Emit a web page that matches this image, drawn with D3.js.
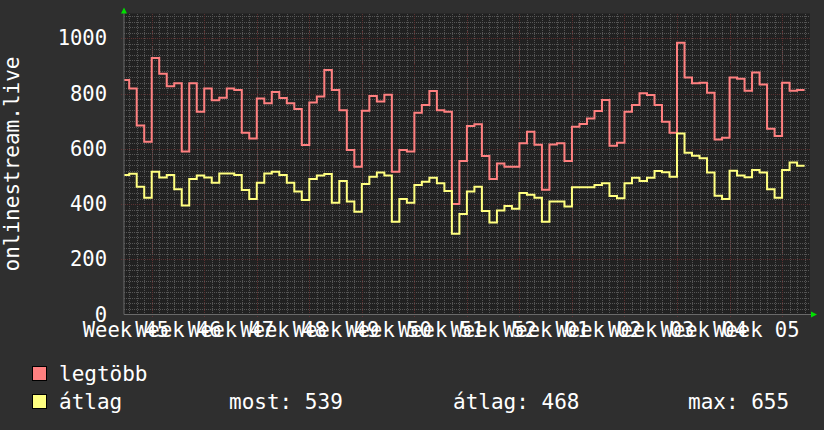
<!DOCTYPE html>
<html>
<head>
<meta charset="utf-8">
<script src="https://cdnjs.cloudflare.com/ajax/libs/d3/7.8.5/d3.min.js"></script>
<style>
    body { margin: 0; background: #2f2f2f; }
    svg { display: block; }
    text { font-family: "DejaVu Sans Mono", monospace; fill: #ffffff; }
</style>
</head>
<body>
<svg id="chart" width="824" height="430"></svg>
<script>
// one value per day, first day is 2018-11-08
const firstDay = new Date(2018, 10, 8);

const maxValues = [
    849, 818, 684, 626, 929, 872, 827, 837, 590, 837, 734, 818, 776, 785, 818, 813, 658, 637, 782, 765,
    806, 784, 765, 744, 614, 768, 789, 885, 813, 740, 596, 535, 738, 791, 771, 796, 517, 596, 590, 731,
    759, 809, 740, 734, 400, 556, 683, 689, 574, 491, 547, 535, 535, 620, 662, 615, 452, 616, 620, 556,
    680, 690, 710, 737, 777, 611, 622, 734, 759, 801, 795, 759, 698, 658, 984, 858, 837, 839, 803, 634,
    640, 858, 854, 810, 876, 833, 673, 646, 839, 810, 813
];

const avgValues = [
    505, 510, 463, 423, 517, 496, 505, 454, 395, 491, 503, 496, 477, 511, 511, 505, 451, 418, 477, 511,
    517, 505, 477, 445, 415, 491, 503, 509, 405, 483, 409, 372, 473, 499, 514, 503, 336, 418, 405, 469,
    481, 495, 475, 447, 292, 364, 445, 463, 375, 333, 377, 393, 383, 440, 434, 423, 336, 409, 409, 391,
    461, 461, 461, 469, 475, 429, 421, 475, 495, 483, 495, 520, 515, 499, 655, 586, 575, 566, 514, 430,
    418, 521, 503, 497, 523, 514, 454, 423, 523, 550, 539
];

const weekLabels = ["Week 45", "Week 46", "Week 47", "Week 48", "Week 49", "Week 50", "Week 51",
    "Week 52", "Week 01", "Week 02", "Week 03", "Week 04", "Week 05"];
const yTicks = [0, 200, 400, 600, 800, 1000];
const seriesNames = ["legtöbb", "átlag"];
const avgStats = ["most: 539", "átlag: 468", "max: 655"];
const yTitle = "onlinestream.live";

const colors = ["#ff8080", "#ffff80"];

const svg = d3.select("#chart");
const plotLeft = 124, plotRight = 810, plotTop = 13.5, plotBottom = 314.5;

const x = d3.scaleTime()
    .domain([new Date(2018, 10, 8, 7, 21), new Date(2019, 1, 7, 17, 17)])
    .range([plotLeft, plotRight]);
const y = d3.scaleLinear()
    .domain([0, 1090])
    .range([plotBottom, plotTop]);

// plot background
svg.append("rect")
    .attr("x", plotLeft).attr("y", plotTop)
    .attr("width", plotRight - plotLeft).attr("height", plotBottom - plotTop)
    .attr("fill", "#212121");

const grid = svg.append("g").attr("shape-rendering", "crispEdges");

// minor grid: every day and every 20
grid.selectAll(".vminor")
    .data(d3.timeDay.range(x.domain()[0], x.domain()[1]))
    .enter().append("line")
    .attr("x1", d => Math.round(x(d)) + 0.5).attr("x2", d => Math.round(x(d)) + 0.5)
    .attr("y1", plotTop).attr("y2", plotBottom)
    .attr("stroke", "#555555")
    .attr("stroke-dasharray", "1,1");

grid.selectAll(".hminor")
    .data(d3.range(20, 1090, 20).filter(v => v % 200 !== 0))
    .enter().append("line")
    .attr("x1", plotLeft).attr("x2", plotRight)
    .attr("y1", d => Math.round(y(d)) + 0.5).attr("y2", d => Math.round(y(d)) + 0.5)
    .attr("stroke", "#555555")
    .attr("stroke-dasharray", "1,1");

// major grid: weeks and every 200
grid.selectAll(".vmajor")
    .data(d3.timeMonday.range(x.domain()[0], x.domain()[1]))
    .enter().append("line")
    .attr("x1", d => Math.round(x(d)) + 0.5).attr("x2", d => Math.round(x(d)) + 0.5)
    .attr("y1", plotTop).attr("y2", plotBottom + 3)
    .attr("stroke", "#5c3131")
    .attr("stroke-dasharray", "1,1");

grid.selectAll(".hmajor")
    .data(yTicks.filter(v => v > 0))
    .enter().append("line")
    .attr("x1", plotLeft - 3).attr("x2", plotRight)
    .attr("y1", d => Math.round(y(d)) + 0.5).attr("y2", d => Math.round(y(d)) + 0.5)
    .attr("stroke", "#5c3131")
    .attr("stroke-dasharray", "1,1");

svg.append("clipPath").attr("id", "plotClip")
    .append("rect")
    .attr("x", plotLeft).attr("y", plotTop)
    .attr("width", plotRight - plotLeft).attr("height", plotBottom - plotTop);

function toPoints(values) {
    let pts = values.map((v, i) => ({ t: d3.timeDay.offset(firstDay, i), v: v }));
    // close the last step at the end of its day
    pts.push({ t: d3.timeDay.offset(firstDay, values.length), v: values[values.length - 1] });
    return pts;
}

const line = d3.line()
    .x(d => x(d.t))
    .y(d => y(d.v))
    .curve(d3.curveStepAfter);

[maxValues, avgValues].forEach((values, i) => {
    svg.append("path")
        .datum(toPoints(values))
        .attr("clip-path", "url(#plotClip)")
        .attr("fill", "none")
        .attr("stroke", colors[i])
        .attr("stroke-width", 2)
        .attr("d", line);
});

// axes lines + arrows
svg.append("line")
    .attr("x1", plotLeft).attr("x2", plotRight + 2)
    .attr("y1", plotBottom).attr("y2", plotBottom)
    .attr("stroke", "#6a6a6a");
svg.append("line")
    .attr("x1", plotLeft).attr("x2", plotLeft)
    .attr("y1", plotBottom).attr("y2", plotTop - 1)
    .attr("stroke", "#6a6a6a");

svg.append("path")
    .attr("d", `M${plotLeft - 3},${plotTop} L${plotLeft + 3},${plotTop} L${plotLeft},${plotTop - 6}Z`)
    .attr("fill", "#00e000");
svg.append("path")
    .attr("d", `M${plotRight + 1},${plotBottom - 3} L${plotRight + 1},${plotBottom + 3} L${plotRight + 7},${plotBottom}Z`)
    .attr("fill", "#00e000");

// y axis labels
const yAxis = d3.axisLeft(y)
    .tickValues(yTicks)
    .tickFormat(d3.format("d"))
    .tickSize(0)
    .tickPadding(17);
const gy = svg.append("g")
    .attr("transform", `translate(${plotLeft},0)`)
    .call(yAxis);
gy.select(".domain").remove();
gy.selectAll("text")
    .attr("fill", "#ffffff")
    .style("font-family", "DejaVu Sans Mono")
    .style("font-size", "20.5px");

// x axis labels, centred in the middle of each week
const weekStarts = d3.timeMonday.range(d3.timeMonday.floor(x.domain()[0]), x.domain()[1])
    .slice(0, weekLabels.length);
const xAxis = d3.axisBottom(x)
    .tickValues(weekStarts.map(d => d3.timeHour.offset(d, 84)))
    .tickFormat((d, i) => weekLabels[i])
    .tickSize(0)
    .tickPadding(8);
const gx = svg.append("g")
    .attr("transform", `translate(0,${plotBottom})`)
    .call(xAxis);
gx.select(".domain").remove();
gx.selectAll("text")
    .attr("fill", "#ffffff")
    .style("font-family", "DejaVu Sans Mono")
    .style("font-size", "20.5px");

// y title
svg.append("text")
    .attr("transform", `translate(19,${(plotTop + plotBottom) / 2}) rotate(-90)`)
    .attr("text-anchor", "middle")
    .style("font-size", "21px")
    .text(yTitle);

// legend
const legend = svg.append("g");
seriesNames.forEach((name, i) => {
    const ly = 366 + i * 28;
    legend.append("rect")
        .attr("x", 32.5).attr("y", ly + 0.5)
        .attr("width", 14).attr("height", 14)
        .attr("fill", colors[i])
        .attr("stroke", "#000");
    legend.append("text")
        .attr("x", 59).attr("y", ly + 15)
        .style("font-size", "21px")
        .text(name);
});

const statX = [229, 453, 688];
avgStats.forEach((s, i) => {
    legend.append("text")
        .attr("x", statX[i]).attr("y", 366 + 28 + 15)
        .style("font-size", "21px")
        .text(s);
});
</script>
</body>
</html>
